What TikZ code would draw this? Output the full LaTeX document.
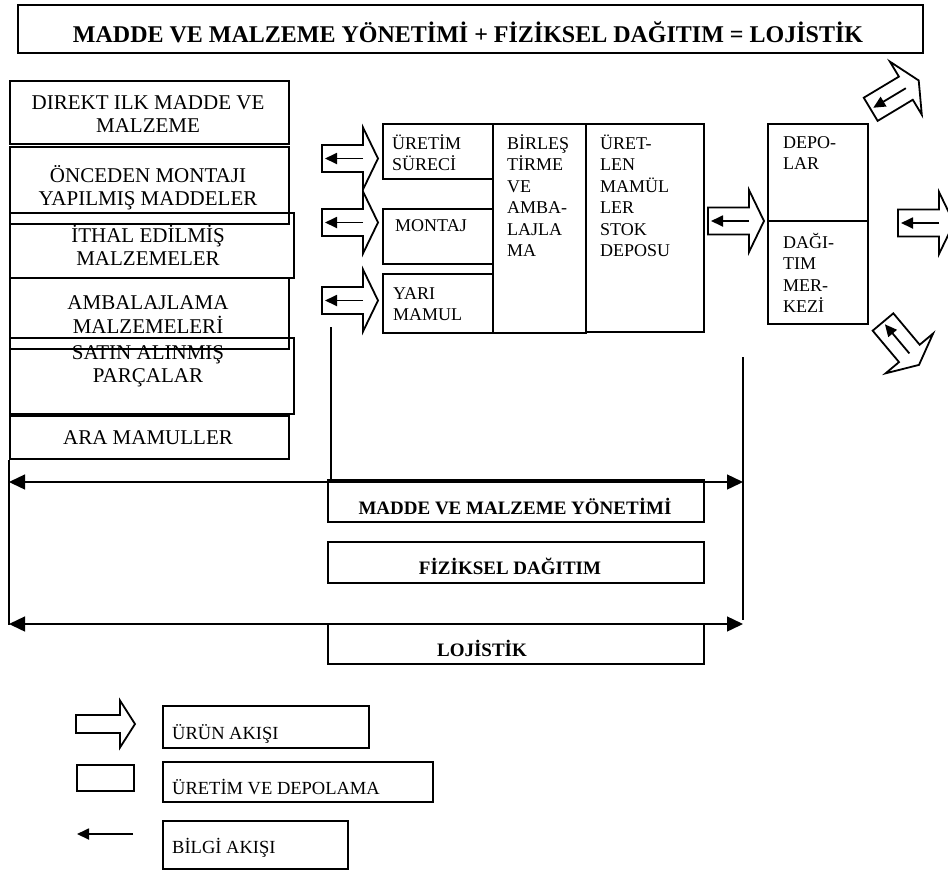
\documentclass[tikz,border=0pt]{standalone}
\usepackage{fontspec}
\setmainfont{Liberation Serif}
\usetikzlibrary{arrows.meta}
\tikzset{
  rbox/.style={draw, line width=1.8pt, inner sep=0pt, anchor=north west},
  ltext/.style={font=\fontsize{21}{23}\selectfont, inner sep=0pt, anchor=base},
  mtext/.style={font=\fontsize{18}{21.5}\selectfont, inner sep=0pt, anchor=base west},
  btext/.style={font=\bfseries\fontsize{19}{22}\selectfont, inner sep=0pt, anchor=base},
  ttext/.style={font=\bfseries\fontsize{24}{28}\selectfont, inner sep=0pt, anchor=base},
  gtext/.style={font=\fontsize{18.5}{22}\selectfont, inner sep=0pt, anchor=base west},
  conn/.style={line width=1.4pt},
  dbl/.style={line width=1.4pt, {Triangle[length=16pt,width=15pt]}-{Triangle[length=16pt,width=15pt]}},
  info/.style={line width=1.8pt, -{Triangle[length=12pt,width=11pt]}},
  barrow/.style={draw, line width=1.8pt, fill=white, line join=miter},
  blockarrow/.pic={
    \draw[barrow] (0,-13.5) -- (41,-13.5) -- (41,-31) -- (56,0) -- (41,31) -- (41,13.5) -- (0,13.5) -- cycle;
    \draw[info] (41,0) -- (3,0);
  },
  legendarrow/.pic={
    \draw[barrow] (0,-9) -- (44,-9) -- (44,-23.5) -- (59,0) -- (44,23.5) -- (44,9) -- (0,9) -- cycle;
  }
}
\newcommand{\stk}[2]{\begin{tabular}[t]{@{}#1@{}}#2\end{tabular}}
\begin{document}
\begin{tikzpicture}[x=1pt,y=-1pt]
\useasboundingbox (0,0) rectangle (948,871);
\clip (0,0) rectangle (948,871);

% title
\node[rbox, minimum width=905pt, minimum height=48pt] (title) at (17,4) {};
\node[ttext] (titletxt) at (468,42) {MADDE VE MALZEME YÖNETİMİ + FİZİKSEL DAĞITIM = LOJİSTİK};

% connector end points
\coordinate (lbot) at (9,625);
\coordinate (mtop) at (331,327);
\coordinate (mbot) at (331,479);
\coordinate (rtop) at (743,357);
\coordinate (rbot) at (743,620);
\coordinate (a1l) at (9,482);
\coordinate (a1r) at (743,482);
\coordinate (a2l) at (9,624);
\coordinate (a2r) at (743,624);

% left column boxes
\node[rbox, minimum width=279pt, minimum height=63pt] (L1) at (9,80) {};
\node[rbox, minimum width=279pt, minimum height=77pt] (L2) at (9,146) {};
\node[rbox, minimum width=284pt, minimum height=65pt] (L3) at (9,212) {};
\node[rbox, minimum width=279pt, minimum height=71pt] (L4) at (9,277) {};
\node[rbox, minimum width=284pt, minimum height=76pt] (L5) at (9,337) {};
\node[rbox, minimum width=279pt, minimum height=43pt] (L6) at (9,415) {};
\node[ltext] (t1) at (148,109) {\stk{c}{DIREKT ILK MADDE VE\\MALZEME}};
\node[ltext] (t2) at (148,182) {\stk{c}{ÖNCEDEN MONTAJI\\YAPILMIŞ MADDELER}};
\node[ltext] (t3) at (148,242) {\stk{c}{İTHAL EDİLMİŞ\\MALZEMELER}};
\node[ltext] (t4) at (148,309) {\stk{c}{AMBALAJLAMA\\MALZEMELERİ}};
\node[ltext] (t5) at (148,359) {\stk{c}{SATIN ALINMIŞ\\PARÇALAR}};
\node[ltext] (t6) at (148,444) {ARA MAMULLER};

\draw[conn] (L6.south west) -- (lbot);
\draw[conn] (mtop) -- (mbot);
\draw[conn] (rtop) -- (rbot);
\draw[dbl] (a1l) -- (a1r);
\draw[dbl] (a2l) -- (a2r);

% middle boxes
\node[rbox, minimum width=110pt, minimum height=55pt] (M1) at (382,123) {};
\node[rbox, minimum width=110pt, minimum height=55pt] (M2) at (382,208) {};
\node[rbox, minimum width=110pt, minimum height=59pt] (M3) at (382,273) {};
\node[rbox, minimum width=93pt, minimum height=209pt] (M4) at (492,123) {};
\node[rbox, minimum width=118pt, minimum height=208pt] (M5) at (585,123) {};
\node[rbox, minimum width=100pt, minimum height=97pt] (R1) at (767,123) {};
\node[rbox, minimum width=100pt, minimum height=103pt] (R2) at (767,220) {};

\node[mtext] (m1) at (392,149) {\stk{l}{ÜRETİM\\SÜRECİ}};
\node[mtext] (m2) at (395,231) {MONTAJ};
\node[mtext] (m3) at (393,299) {\stk{l}{YARI\\MAMUL}};
\node[mtext] (m4) at (507,149) {\stk{l}{BİRLEŞ\\TİRME\\VE\\AMBA-\\LAJLA\\MA}};
\node[mtext] (m5) at (600,149) {\stk{l}{ÜRET-\\LEN\\MAMÜL\\LER\\STOK\\DEPOSU}};
\node[mtext] (r1) at (783,148) {\stk{l}{DEPO-\\LAR}};
\node[mtext] (r2) at (783,248) {\stk{l}{DAĞI-\\TIM\\MER-\\KEZİ}};

% block arrows (product flow with information flow)
\pic at (322,158.5) {blockarrow};
\pic at (322,222.5) {blockarrow};
\pic at (322,300.5) {blockarrow};
\pic at (708,221) {blockarrow};
\pic at (898,223) {blockarrow};
\pic[rotate=31] at (870.7,109.3) {blockarrow};
\pic[rotate=-50] at (883,322) {blockarrow};

% bottom boxes
\node[rbox, minimum width=376pt, minimum height=42pt] (B1) at (327,479) {};
\node[rbox, minimum width=376pt, minimum height=41pt] (B2) at (327,541) {};
\node[rbox, minimum width=376pt, minimum height=40pt] (B3) at (327,623) {};
\node[btext] (b1) at (515,514.5) {MADDE VE MALZEME YÖNETİMİ};
\node[btext] (b2) at (510,574.5) {FİZİKSEL DAĞITIM};
\node[btext] (b3) at (482,656.5) {LOJİSTİK};

% legend
\pic at (76,724) {legendarrow};
\node[rbox, minimum width=57pt, minimum height=26pt] (gRect) at (76,764) {};
\coordinate (gInfoR) at (133,834);
\coordinate (gInfoL) at (77,834);
\draw[info] (gInfoR) -- (gInfoL);
\node[rbox, minimum width=206pt, minimum height=42pt] (G1) at (162,705) {};
\node[rbox, minimum width=270pt, minimum height=40pt] (G2) at (162,761) {};
\node[rbox, minimum width=185pt, minimum height=48pt] (G3) at (162,820) {};
\node[gtext] (g1) at (172,739) {ÜRÜN AKIŞI};
\node[gtext] (g2) at (172,794) {ÜRETİM VE DEPOLAMA};
\node[gtext] (g3) at (172,853) {BİLGİ AKIŞI};
\end{tikzpicture}
\end{document}
